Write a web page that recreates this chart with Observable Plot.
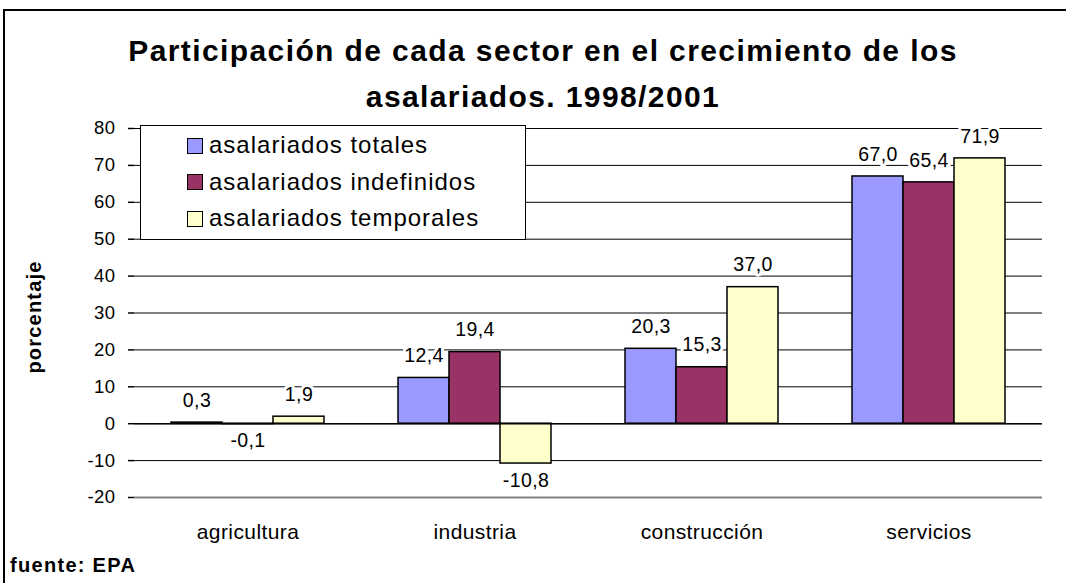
<!DOCTYPE html>
<html><head><meta charset="utf-8">
<script src="https://cdn.jsdelivr.net/npm/d3@7"></script>
<script src="https://cdn.jsdelivr.net/npm/@observablehq/plot@0.6"></script>
<style>
html,body{margin:0;padding:0;background:#fff;overflow:hidden;width:1066px;height:583px;}
#wrap{position:relative;width:1066px;height:583px;overflow:hidden;font-family:"Liberation Sans",Arial,sans-serif;color:#000;}
#border{position:absolute;left:3px;top:9px;width:1300px;height:800px;border:2px solid #000;}
#chart{position:absolute;left:0;top:0;}
#title{position:absolute;left:0;top:27.6px;width:1086px;text-align:center;font-weight:bold;font-size:30px;line-height:46px;letter-spacing:1.4px;white-space:nowrap;}
#ylabel{position:absolute;left:-65.6px;top:307px;width:200px;height:20px;line-height:20px;text-align:center;font-weight:bold;font-size:20px;letter-spacing:1.2px;transform:rotate(-90deg);white-space:nowrap;}
#source{position:absolute;left:10px;top:555px;font-weight:bold;font-size:20px;line-height:20px;letter-spacing:1.3px;white-space:nowrap;}
#legend{position:absolute;left:140px;top:125px;width:386px;height:115px;box-sizing:border-box;border:1.5px solid #000;background:#fff;}
.sw{position:absolute;width:16px;height:16px;box-sizing:border-box;border:1.5px solid #000;}
.lt{position:absolute;font-size:24px;line-height:24px;letter-spacing:1px;white-space:nowrap;}
</style>
</head><body>
<div id="wrap">
  <div id="border"></div>
  <div id="chart"></div>
  <div id="title">Participación de cada sector en el crecimiento de los<br>asalariados. 1998/2001</div>
  <div id="ylabel">porcentaje</div>
  <div id="source">fuente: EPA</div>
  <div id="legend"></div>
</div>
<script>
// ---- data ----
const categories = ["agricultura", "industria", "construcción", "servicios"];
const series = ["asalariados totales", "asalariados indefinidos", "asalariados temporales"];
const totales = [0.3, 12.4, 20.3, 67.0];
const indefinidos = [-0.1, 19.4, 15.3, 65.4];
const temporales = [1.9, -10.8, 37.0, 71.9];
const colors = ["#9999FF", "#993366", "#FFFFCC"];
const yTicks = [-20, -10, 0, 10, 20, 30, 40, 50, 60, 70, 80];
const gridTicks = [-10, 0, 10, 20, 30, 40, 50, 60, 70, 80];

const seriesValues = [totales, indefinidos, temporales];
const rows = [];
categories.forEach((c, i) => {
  seriesValues.forEach((arr, j) => rows.push({sector: c, serie: series[j], value: arr[i]}));
});
const fmt = v => v.toFixed(1).replace(".", ",");

const edgeMarks = (index, scales) => {
  const g = d3.create("svg:g");
  const cat = categories[index[0]];
  const [x0, x1] = scales.x.range();
  const [yb, yt] = scales.y.range();
  const y0 = scales.y(0);
  g.append("line").attr("x1", x1).attr("x2", x1).attr("y1", y0).attr("y2", y0 + 5)
    .attr("stroke", "black").attr("stroke-width", 1.5);
  if (cat === categories[categories.length - 1]) {
    g.append("line").attr("x1", x1).attr("x2", x1).attr("y1", yt).attr("y2", yb)
      .attr("stroke", "#808080").attr("stroke-width", 2);
  }
  if (cat === categories[0]) {
    g.append("line").attr("x1", x0).attr("x2", x0).attr("y1", yt).attr("y2", yb + 1)
      .attr("stroke", "black").attr("stroke-width", 2);
  }
  return g.node();
};

const chart = Plot.plot({
  width: 1066,
  height: 583,
  marginLeft: 133,
  marginRight: 24,
  marginTop: 128,
  marginBottom: 86,
  style: {fontFamily: "'Liberation Sans', Arial, sans-serif", fontSize: "18px", color: "black", background: "transparent", letterSpacing: "0.4px"},
  fx: {domain: categories, padding: 0, label: null},
  x: {domain: series, paddingInner: 0, paddingOuter: 0.705, axis: null, label: null},
  y: {domain: [-20, 80], label: null},
  color: {domain: series, range: colors},
  marks: [
    Plot.gridY(gridTicks, {stroke: "black", strokeOpacity: 1, strokeWidth: 1}),
    Plot.ruleY([-20], {stroke: "#808080", strokeWidth: 2}),
    Plot.barY(rows, {fx: "sector", x: "serie", y: "value", fill: "serie", stroke: "black", strokeWidth: 1.5}),
    Plot.ruleY([0], {stroke: "black", strokeWidth: 1.5}),
    Plot.text(rows.filter(d => d.value >= 0), {fx: "sector", x: "serie", y: "value", text: d => fmt(d.value), dy: -22, fontSize: 19.5, fill: "black", stroke: "white", strokeWidth: 6, paintOrder: "stroke"}),
    Plot.text(rows.filter(d => d.value < 0), {fx: "sector", x: "serie", y: "value", text: d => fmt(d.value), dy: 17, fontSize: 19.5, fill: "black", stroke: "white", strokeWidth: 6, paintOrder: "stroke"}),
    Plot.axisY(yTicks, {tickSize: 6, tickPadding: 13, tickFormat: d => String(d), fontSize: 18.5, label: null, strokeWidth: 1.5}),
    Plot.axisFx({anchor: "bottom", tickSize: 0, tickPadding: 27, fontSize: 21, label: null}),
    Plot.dot(categories, {fx: d => d, r: 0, render: edgeMarks})
  ]
});
document.getElementById("chart").appendChild(chart);

// legend
const legend = document.getElementById("legend");
const rowBaselines = [152.3, 188.8, 225.3];
series.forEach((s, j) => {
  const base = rowBaselines[j] - 125;
  const sw = document.createElement("div");
  sw.className = "sw";
  sw.style.left = (186 - 140) + "px";
  sw.style.top = (base - 15.5) + "px";
  sw.style.background = colors[j];
  legend.appendChild(sw);
  const t = document.createElement("div");
  t.className = "lt";
  t.style.left = (208 - 140) + "px";
  t.style.top = (base - 20.3) + "px";
  t.textContent = s;
  legend.appendChild(t);
});
</script>
</body></html>
